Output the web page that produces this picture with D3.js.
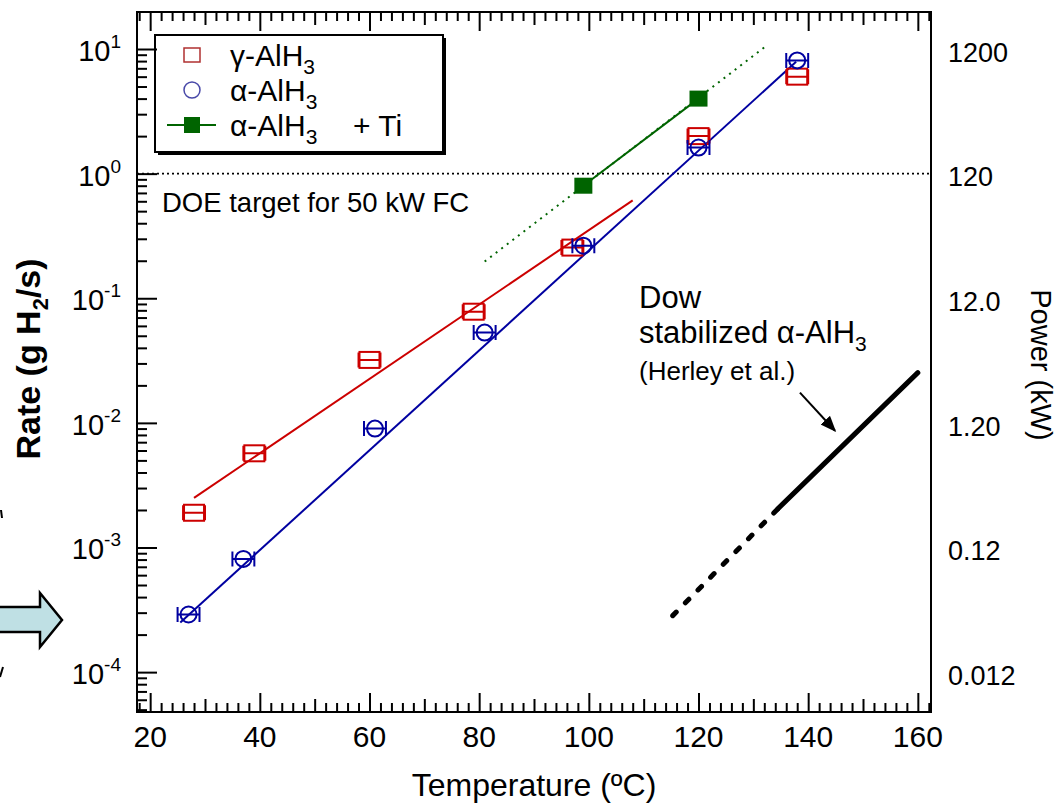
<!DOCTYPE html>
<html>
<head>
<meta charset="utf-8">
<script src="https://cdn.jsdelivr.net/npm/d3@7"></script>
<style>
  body { margin: 0; background: #fff; }
  svg text { font-family: "Liberation Sans", Arial, Helvetica, sans-serif; fill: #000; }
</style>
</head>
<body>
<svg id="chart" width="1058" height="804"></svg>
<script>
// gamma-AlH3 measured rates
const gammaTemp = [28, 39, 60, 79, 97, 120, 138];
const gammaRate = [0.0019, 0.0057, 0.032, 0.078, 0.255, 2.0, 6.0];
// alpha-AlH3 measured rates
const alphaTemp = [27, 37, 61, 81, 99, 120, 138];
const alphaRate = [0.00029, 0.00081, 0.009, 0.053, 0.264, 1.62, 8.1];
// alpha-AlH3 + Ti
const tiTemp = [99, 120];
const tiRate = [0.80, 4.0];
const tempErr = 2; // +/- degC on every point

// fitted lines
const gammaFitTemp = [28, 108];
const gammaFitRate = [0.0025, 0.61];
const alphaFitTemp = [25.5, 137.8];
const alphaFitRate = [0.00025, 7.9];
const tiExtTemp = [81, 132];
const tiExtRate = [0.197, 10.3];

// Dow stabilized alpha-AlH3 (Herley et al.)
const dowTemp = [134.5, 160];
const dowRate = [0.00205, 0.0253];
const dowExtTemp = [115.3, 134.5];
const dowExtRate = [0.000284, 0.00205];
const dowArrowTemp = [138.5, 144.9];
const dowArrowRate = [0.0175, 0.00865];

const doeTarget = 1.0;

// axes
const xLabelValues = [20, 40, 60, 80, 100, 120, 140, 160];
const yLabelExps = [-4, -3, -2, -1, 0, 1];
const powerTickValues = [0.012, 0.12, 1.2, 12, 120, 1200];
const powerTickLabels = ['0.012', '0.12', '1.20', '12.0', '120', '1200'];
const powerPerRate = 120;

const red = '#cc0000', blue = '#0000a0', green = '#006400';

const svg = d3.select('#chart');
const pLeft = 137, pRight = 931, pTop = 12, pBottom = 712;

const x = d3.scaleLinear().domain([17.6, 162.4]).range([pLeft, pRight]);
const y = d3.scaleLog().domain([Math.pow(10, -4.32), Math.pow(10, 1.297)]).range([pBottom, pTop]);

const line = d3.line().x(d => x(d[0])).y(d => y(d[1]));
const pairs = (a, b) => a.map((v, i) => [v, b[i]]);

// blue block arrow on the left (slide decoration)
svg.append('path')
  .attr('d', 'M0,607 L40,607 L40,593 L62,620 L40,647 L40,632 L0,632')
  .attr('fill', '#bfe0e4').attr('stroke', '#000').attr('stroke-width', 2.5)
  .attr('stroke-linejoin', 'miter');
svg.append('line').attr('x1', 1).attr('y1', 510).attr('x2', 2).attr('y2', 518).attr('stroke', '#000').attr('stroke-width', 2);
svg.append('line').attr('x1', 3).attr('y1', 667).attr('x2', 0).attr('y2', 677).attr('stroke', '#000').attr('stroke-width', 2);

// DOE target
svg.append('line')
  .attr('x1', pLeft).attr('x2', pRight)
  .attr('y1', y(doeTarget)).attr('y2', y(doeTarget))
  .attr('stroke', '#000').attr('stroke-width', 1.6).attr('stroke-dasharray', '2,3');
svg.append('text').attr('x', 162).attr('y', 212).style('font-size', '27.5px')
  .text('DOE target for 50 kW FC');

// fits
svg.append('path').datum(pairs(gammaFitTemp, gammaFitRate)).attr('d', line)
  .attr('stroke', red).attr('stroke-width', 2).attr('fill', 'none');
svg.append('path').datum(pairs(alphaFitTemp, alphaFitRate)).attr('d', line)
  .attr('stroke', blue).attr('stroke-width', 2).attr('fill', 'none');
svg.append('path').datum(pairs(tiExtTemp, tiExtRate)).attr('d', line)
  .attr('stroke', green).attr('stroke-width', 2).attr('fill', 'none').attr('stroke-dasharray', '2,5');
svg.append('path').datum(pairs(tiTemp, tiRate)).attr('d', line)
  .attr('stroke', green).attr('stroke-width', 2).attr('fill', 'none');

// Dow line
svg.append('path').datum(pairs(dowExtTemp, dowExtRate)).attr('d', line)
  .attr('stroke', '#000').attr('stroke-width', 5).attr('fill', 'none')
  .attr('stroke-dasharray', '5,13').attr('stroke-linecap', 'round');
svg.append('path').datum(pairs(dowTemp, dowRate)).attr('d', line)
  .attr('stroke', '#000').attr('stroke-width', 5).attr('fill', 'none').attr('stroke-linecap', 'round');

// arrow to Dow line
svg.append('defs').append('marker')
  .attr('id', 'head').attr('viewBox', '0 0 10 10').attr('refX', 9).attr('refY', 5)
  .attr('markerWidth', 16).attr('markerHeight', 16).attr('orient', 'auto').attr('markerUnits', 'userSpaceOnUse')
  .append('path').attr('d', 'M0,1 L10,5 L0,9 Z').attr('fill', '#000');
svg.append('path').datum(pairs(dowArrowTemp, dowArrowRate)).attr('d', line)
  .attr('stroke', '#000').attr('stroke-width', 2).attr('fill', 'none').attr('marker-end', 'url(#head)');

const dowText = svg.append('g');
dowText.append('text').attr('x', 639).attr('y', 308).style('font-size', '31px').text('Dow');
const st = dowText.append('text').attr('x', 639).attr('y', 343).style('font-size', '31px');
st.append('tspan').text('stabilized  \u03b1-AlH');
st.append('tspan').attr('dy', 8).style('font-size', '21px').text('3');
dowText.append('text').attr('x', 639).attr('y', 380).style('font-size', '26px').text('(Herley et al.)');

// error bars + markers
function errorBars(temps, rates, color) {
  const g = svg.append('g').attr('stroke', color).attr('stroke-width', 2).attr('fill', 'none');
  const d = pairs(temps, rates);
  g.selectAll('.eb').data(d).join('path')
    .attr('d', p => {
      const x0 = x(p[0] - tempErr), x1 = x(p[0] + tempErr), yy = y(p[1]);
      return `M${x0},${yy - 7.5}V${yy + 7.5}M${x0},${yy}H${x1}M${x1},${yy - 7.5}V${yy + 7.5}`;
    });
  return g;
}
errorBars(gammaTemp, gammaRate, red).selectAll('rect').data(pairs(gammaTemp, gammaRate)).join('rect')
  .attr('x', p => x(p[0]) - 10).attr('y', p => y(p[1]) - 8).attr('width', 20).attr('height', 16);
errorBars(alphaTemp, alphaRate, blue).selectAll('circle').data(pairs(alphaTemp, alphaRate)).join('circle')
  .attr('cx', p => x(p[0])).attr('cy', p => y(p[1])).attr('r', 8);
svg.append('g').selectAll('rect').data(pairs(tiTemp, tiRate)).join('rect')
  .attr('x', p => x(p[0]) - 9).attr('y', p => y(p[1]) - 8).attr('width', 18).attr('height', 16)
  .attr('fill', green);

// legend
svg.append('rect').attr('x', 158).attr('y', 38).attr('width', 288).attr('height', 117).attr('fill', '#000');
svg.append('rect').attr('x', 155).attr('y', 35).attr('width', 288).attr('height', 117)
  .attr('fill', '#fff').attr('stroke', '#000').attr('stroke-width', 2);
const leg = svg.append('g');
leg.append('rect').attr('x', 184).attr('y', 48).attr('width', 16).attr('height', 14)
  .attr('fill', 'none').attr('stroke', '#b03030').attr('stroke-width', 1.5);
leg.append('circle').attr('cx', 192).attr('cy', 90).attr('r', 8)
  .attr('fill', 'none').attr('stroke', '#4848a8').attr('stroke-width', 1.5);
leg.append('line').attr('x1', 167).attr('x2', 216).attr('y1', 125).attr('y2', 125)
  .attr('stroke', green).attr('stroke-width', 2);
leg.append('rect').attr('x', 184).attr('y', 117).attr('width', 16).attr('height', 16).attr('fill', green);
const legLabels = ['\u03b3-AlH', '\u03b1-AlH', '\u03b1-AlH'];
legLabels.forEach((s, i) => {
  const t = leg.append('text').attr('x', 230).attr('y', 66 + i * 35).style('font-size', '30px');
  t.append('tspan').text(s);
  t.append('tspan').attr('dy', 8).style('font-size', '21px').text('3');
});
leg.append('text').attr('x', 353).attr('y', 136).style('font-size', '30px').text('+ Ti');

// frame
svg.append('rect').attr('x', pLeft).attr('y', pTop).attr('width', pRight - pLeft).attr('height', pBottom - pTop)
  .attr('fill', 'none').attr('stroke', '#000').attr('stroke-width', 2);

// x ticks (bottom and top, inward)
const xMinor = d3.range(18, 163, 2);
const xLen = v => v % 20 === 0 ? 19 : (v % 10 === 0 ? 13 : 9);
svg.append('g').attr('transform', `translate(0,${pBottom})`)
  .call(d3.axisBottom(x).tickValues(xMinor).tickSize(0).tickFormat(''))
  .call(g => g.select('.domain').remove())
  .selectAll('.tick line').attr('y2', d => -xLen(d)).attr('stroke-width', 2);
svg.append('g').attr('transform', `translate(0,${pTop})`)
  .call(d3.axisTop(x).tickValues(xMinor).tickSize(0).tickFormat(''))
  .call(g => g.select('.domain').remove())
  .selectAll('.tick line').attr('y2', d => xLen(d)).attr('stroke-width', 2);

// y ticks (left, inward)
const yTicks = [];
d3.range(-5, 2).forEach(e => d3.range(1, 10).forEach(m => {
  const v = +(m + 'e' + e);
  if (v >= y.domain()[0] && v <= y.domain()[1]) yTicks.push(v);
}));
svg.append('g').attr('transform', `translate(${pLeft},0)`)
  .call(d3.axisLeft(y).tickValues(yTicks).tickSize(0).tickFormat(''))
  .call(g => g.select('.domain').remove())
  .selectAll('.tick line').attr('x2', d => Math.abs(Math.log10(d) - Math.round(Math.log10(d))) < 1e-9 ? 20 : 10)
  .attr('stroke-width', 2);

// x labels
svg.append('g').selectAll('text').data(xLabelValues).join('text')
  .attr('x', d => x(d)).attr('y', 747).attr('text-anchor', 'middle').style('font-size', '30px')
  .text(d => d);

// y labels with superscripts
const yl = svg.append('g').selectAll('text').data(yLabelExps).join('text')
  .attr('x', 121).attr('y', d => y(Math.pow(10, d)) + 12).attr('text-anchor', 'end').style('font-size', '29px');
yl.append('tspan').text('10');
yl.append('tspan').attr('dy', -13).style('font-size', '19px').text(d => d);

// right power labels
svg.append('g').attr('transform', `translate(${pRight},0)`)
  .call(d3.axisRight(y.copy().domain(y.domain().map(v => v * powerPerRate)))
    .tickValues(powerTickValues).tickSize(0).tickPadding(17)
    .tickFormat((d, i) => powerTickLabels[i]))
  .call(g => g.select('.domain').remove())
  .selectAll('text').style('font-size', '27px').attr('dy', '0.45em');

// axis titles
svg.append('text').attr('x', 534).attr('y', 796).attr('text-anchor', 'middle').style('font-size', '32px')
  .text('Temperature (\u00baC)');
const yt = svg.append('text').attr('transform', 'translate(40,359) rotate(-90)')
  .attr('text-anchor', 'middle').style('font-size', '34px').style('font-weight', 'bold');
yt.append('tspan').text('Rate (g H');
yt.append('tspan').attr('dy', 8).style('font-size', '22px').text('2');
yt.append('tspan').attr('dy', -8).text('/s)');
svg.append('text').attr('transform', 'translate(1031,365) rotate(90)')
  .attr('text-anchor', 'middle').style('font-size', '29px').text('Power (kW)');
</script>
</body>
</html>
